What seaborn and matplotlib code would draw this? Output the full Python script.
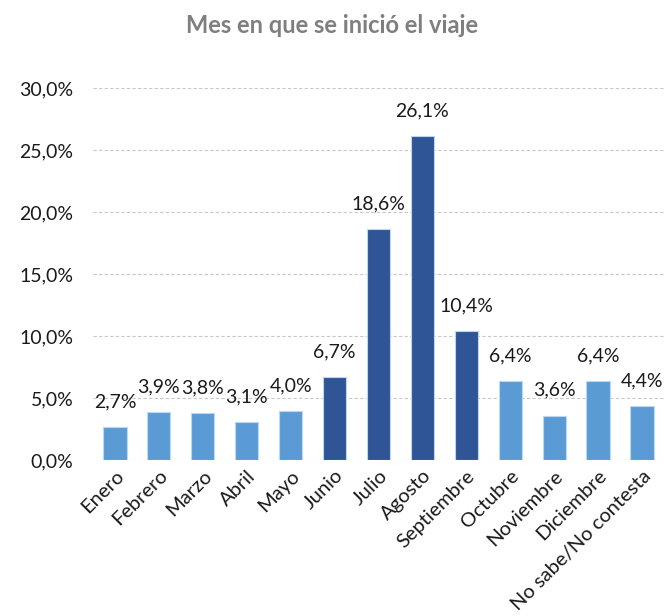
import matplotlib
matplotlib.use("Agg")
import matplotlib.pyplot as plt
import seaborn as sns
import pandas as pd

meses = ["Enero", "Febrero", "Marzo", "Abril", "Mayo", "Junio", "Julio", "Agosto",
         "Septiembre", "Octubre", "Noviembre", "Diciembre", "No sabe/No contesta"]
porcentajes = [2.7, 3.9, 3.8, 3.1, 4.0, 6.7, 18.6, 26.1, 10.4, 6.4, 3.6, 6.4, 4.4]
verano = ["Junio", "Julio", "Agosto", "Septiembre"]
yticks = [0, 5, 10, 15, 20, 25, 30]

sns.set_theme(style="white")
plt.rcParams['font.family'] = ['Lato', 'DejaVu Sans']

df = pd.DataFrame({"mes": meses, "pct": porcentajes})
df["grupo"] = ["alto" if m in verano else "bajo" for m in meses]

fig = plt.figure(figsize=(6.64, 6.16), dpi=100)
ax = fig.add_axes([0.140, 0.253, 0.860, 0.604])

sns.barplot(data=df, x="mes", y="pct", hue="grupo", dodge=False, saturation=1,
            palette={"bajo": "#5B9BD5", "alto": "#2F5597"},
            width=0.53, edgecolor="#BDD7EE", linewidth=0.8, legend=False, ax=ax)

for i, v in enumerate(porcentajes):
    ax.annotate(f"{v:.1f}%".replace(".", ","), (i, v), xytext=(0, 12),
                textcoords="offset points", ha="center", va="bottom",
                fontsize=14, color="#1a1a1a")

ax.set_ylim(0, 30)
ax.set_xlim(-0.5, 12.5)
ax.set_yticks(yticks)
ax.set_yticklabels([f"{t:.1f}%".replace(".", ",") for t in yticks], fontsize=14, color="#1a1a1a")
ax.tick_params(axis="y", length=0, pad=14)
ax.tick_params(axis="x", length=0, pad=5)
ax.set_xticks(range(len(meses)))
ax.set_xticklabels(meses, rotation=45, ha="right", rotation_mode="anchor",
                   fontsize=14.5, color="#1a1a1a")
ax.grid(axis="y", color="#C8C8C8", linestyle=(0, (3, 2)), linewidth=0.8)
ax.set_axisbelow(True)
for s in ax.spines.values():
    s.set_visible(False)
ax.set_xlabel("")
ax.set_ylabel("")

fig.text(0.5, 0.958, "Mes en que se inició el viaje", ha="center", va="center",
         fontsize=17, fontweight="bold", color="#7F7F7F")

fig.savefig("out.png", dpi=100)
